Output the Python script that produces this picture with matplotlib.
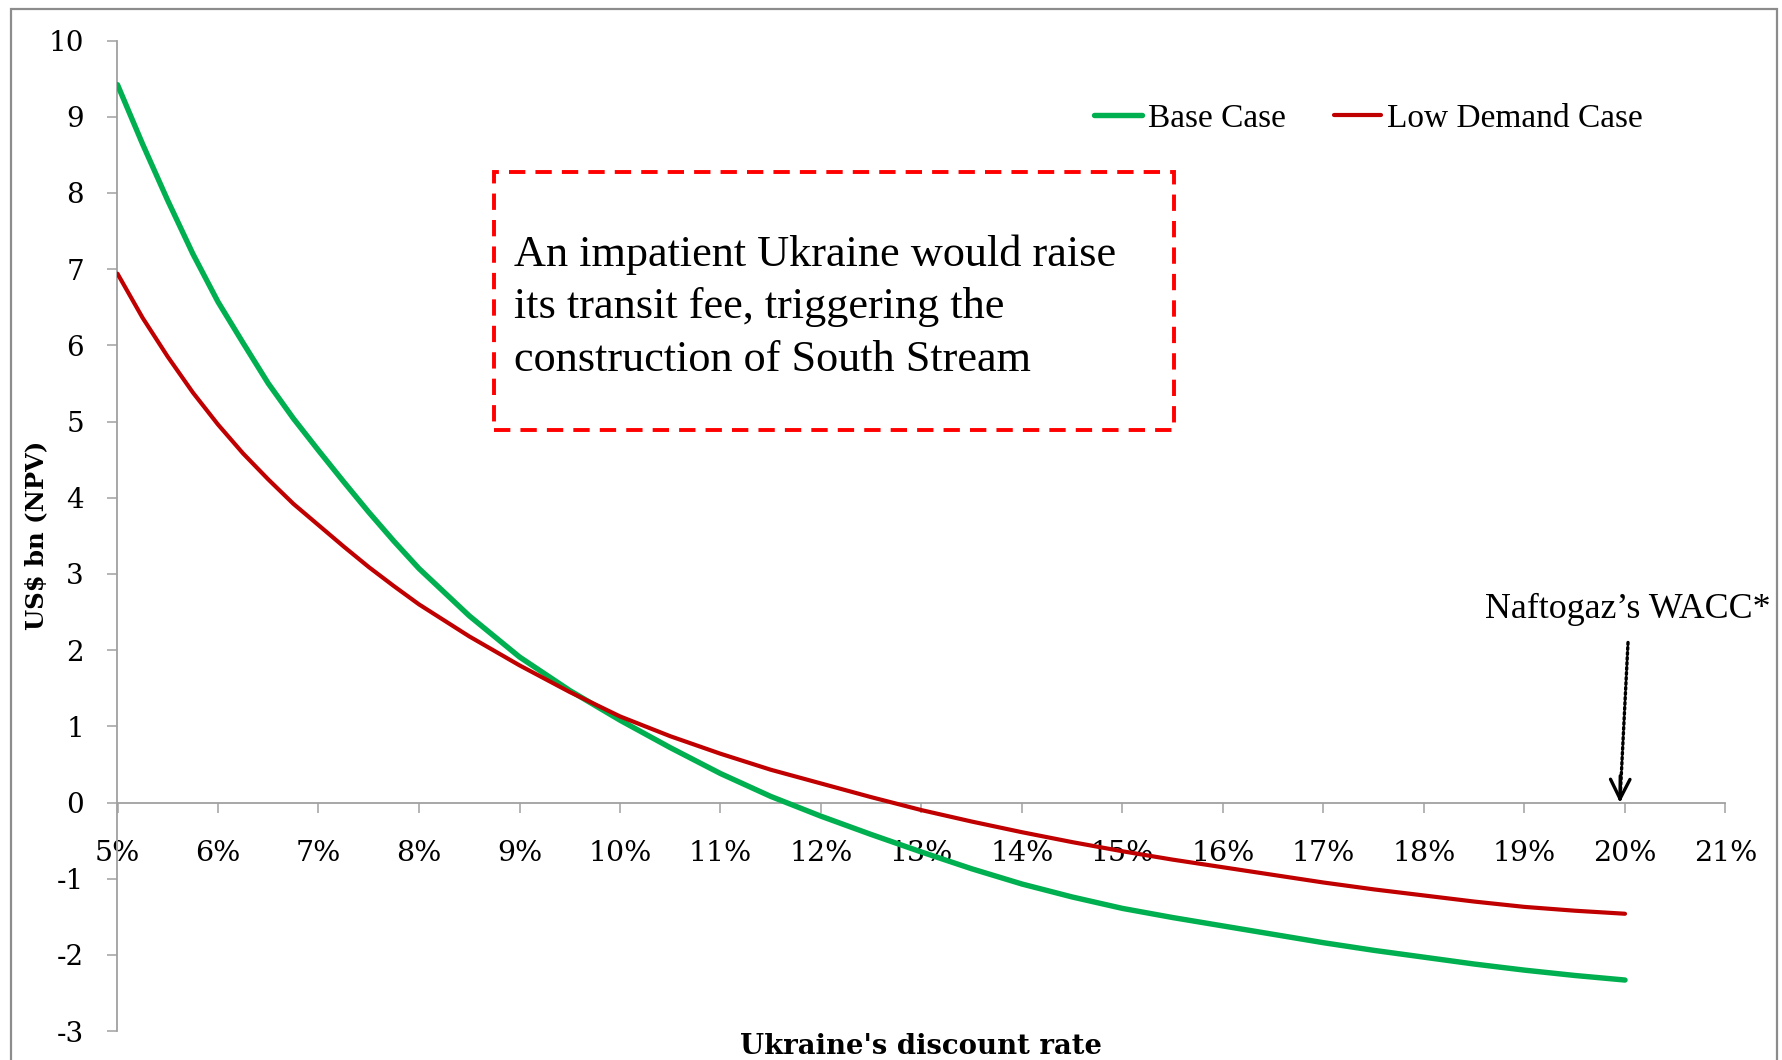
import matplotlib
matplotlib.use("Agg")
import matplotlib.pyplot as plt
from matplotlib.patches import Rectangle
from matplotlib.ticker import FuncFormatter

plt.rcParams["axes.unicode_minus"] = False

# Discount rate (%) and NPV (US$ bn) for the two demand scenarios
discount_rate = [5.0, 5.25, 5.5, 5.75, 6.0, 6.25, 6.5, 6.75, 7.0, 7.25, 7.5, 7.75,
                 8.0, 8.5, 9.0, 9.5, 10.0, 10.5, 11.0, 11.5, 12.0, 12.5, 13.0,
                 13.5, 14.0, 14.5, 15.0, 15.5, 16.0, 16.5, 17.0, 17.5, 18.0,
                 18.5, 19.0, 19.5, 20.0]
base_case = [9.42, 8.64, 7.90, 7.20, 6.57, 6.03, 5.50, 5.04, 4.62, 4.21, 3.81, 3.43,
             3.07, 2.45, 1.91, 1.47, 1.08, 0.72, 0.38, 0.08, -0.18, -0.42, -0.65,
             -0.87, -1.07, -1.24, -1.39, -1.51, -1.62, -1.73, -1.84, -1.94, -2.03,
             -2.12, -2.20, -2.27, -2.33]
low_demand_case = [6.94, 6.36, 5.85, 5.38, 4.96, 4.58, 4.24, 3.92, 3.64, 3.36, 3.09, 2.84,
                   2.60, 2.18, 1.80, 1.45, 1.13, 0.87, 0.64, 0.43, 0.25, 0.07, -0.10,
                   -0.25, -0.39, -0.52, -0.64, -0.75, -0.85, -0.95, -1.05, -1.14, -1.22,
                   -1.30, -1.37, -1.42, -1.46]

series_names = ["Base Case", "Low Demand Case"]
series_colors = ["#00B050", "#C00000"]

x_ticks = list(range(5, 22))
y_ticks = list(range(-3, 11))

callout_text = ("An impatient Ukraine would raise\n"
                "its transit fee, triggering the\n"
                "construction of South Stream")
wacc_label = "Naftogaz\u2019s WACC*"
wacc_rate = 20.0

W, H = 1783, 1060
fig = plt.figure(figsize=(W / 100, H / 100), dpi=100)
fig.patch.set_facecolor("white")

left, right = 117.5 / W, 1725.5 / W
top, bottom = 1 - 40.5 / H, 1 - 1031.1 / H
ax = fig.add_axes([left, bottom, right - left, top - bottom])

ax.plot(discount_rate, base_case, color=series_colors[0], lw=3.9,
        label=series_names[0], solid_capstyle="round", solid_joinstyle="round",
        zorder=3)
ax.plot(discount_rate, low_demand_case, color=series_colors[1], lw=3.0,
        label=series_names[1], solid_capstyle="round", solid_joinstyle="round",
        zorder=3)

ax.set_xlim(5, 21)
ax.set_ylim(-3, 10)
ax.set_xticks(x_ticks)
ax.set_yticks(y_ticks)
ax.xaxis.set_major_formatter(FuncFormatter(lambda v, p: f"{int(v)}%"))

spine_col = "#A0A0A0"
for s in ("top", "right"):
    ax.spines[s].set_visible(False)
ax.spines["left"].set_color(spine_col)
ax.spines["left"].set_linewidth(1.3)
ax.spines["bottom"].set_position(("data", 0))
ax.spines["bottom"].set_color(spine_col)
ax.spines["bottom"].set_linewidth(1.3)

ax.tick_params(axis="both", direction="out", length=7.2, width=1.1,
               color=spine_col, labelcolor="black")
ax.tick_params(axis="x", pad=19.5)
ax.tick_params(axis="y", pad=17)
for lab in ax.get_xticklabels():
    lab.set_fontfamily("DejaVu Serif")
    lab.set_fontsize(20.5)
for lab in ax.get_yticklabels():
    lab.set_fontfamily("DejaVu Serif")
    lab.set_fontsize(20)

# Legend
leg = fig.legend(loc="center left", bbox_to_anchor=(1094 / W, 1 - 118.5 / H),
                 ncol=2, frameon=False, borderpad=0, borderaxespad=0,
                 handlelength=1.43, handletextpad=0.18, columnspacing=1.44,
                 prop={"family": "Liberation Serif", "size": 24})

# Callout box
ax.add_patch(Rectangle((8.75, 4.89), 6.76, 3.38, fill=False, edgecolor="#FF0000",
                       lw=2.8, linestyle=(0, (4.2, 2.6)), zorder=4))
ax.text(8.945, 6.50, callout_text, ha="left", va="center",
        family="Liberation Serif", fontsize=31.9, linespacing=1.39, zorder=5)

# WACC marker
ax.text(20.03, 2.53, wacc_label, ha="center", va="center",
        family="Liberation Serif", fontsize=25.8, clip_on=False)
ax.annotate("", xy=(wacc_rate - 0.05, 0.02), xytext=(wacc_rate + 0.03, 2.1),
            arrowprops=dict(arrowstyle="-", lw=2.4, linestyle=(0, (0.6, 0.9)),
                            color="black", shrinkA=0, shrinkB=0))
ax.annotate("", xy=(wacc_rate - 0.05, 0.0), xytext=(wacc_rate - 0.047, 0.35),
            arrowprops=dict(arrowstyle="->,head_length=0.7,head_width=0.35",
                            lw=2.4, color="black", shrinkA=0, shrinkB=0,
                            mutation_scale=20))

# Axis titles
fig.text(36 / W, (top + bottom) / 2, "US$ bn (NPV)", rotation=90,
         ha="center", va="center", family="DejaVu Serif", weight="bold",
         fontsize=17.5)
fig.text((left + right) / 2, 1 - 1046 / H, "Ukraine's discount rate",
         ha="center", va="center", family="DejaVu Serif", weight="bold",
         fontsize=19.8)

# Outer chart frame
fig.patches.append(Rectangle((11 / W, -0.05), (1777 - 11) / W, 1 - 9 / H + 0.05,
                             transform=fig.transFigure, fill=False,
                             edgecolor="#8C8C8C", lw=1.6))

fig.savefig("out.png", dpi=100)
